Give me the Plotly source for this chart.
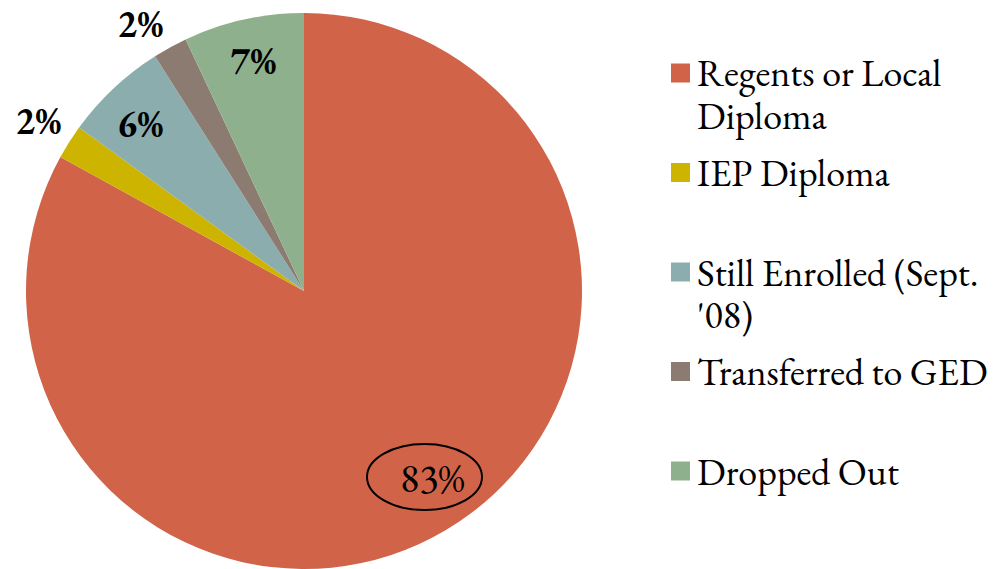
import plotly.graph_objects as go

# Outcome shares (percent), clockwise from 12 o'clock
categories = [
    "Regents or Local Diploma",
    "IEP Diploma",
    "Still Enrolled (Sept. '08)",
    "Transferred to GED",
    "Dropped Out",
]
legend_lines = [
    ["Regents or Local", "Diploma"],
    ["IEP Diploma"],
    ["Still Enrolled (Sept.", "'08)"],
    ["Transferred to GED"],
    ["Dropped Out"],
]
shares = [83, 2, 6, 2, 7]
colors = ["#D16349", "#CCB400", "#8CADAE", "#8C7B70", "#8FB08C"]

FONT = "EB Garamond"
W, H = 1001, 569
OFF = 8  # browser body margin: page px -> figure px
CX, CY, R = 304 - OFF, 291 - OFF, 278  # pie centre / radius (figure px)

# where the percentage labels sit (page px), as in the original slide
label_pos = [(432, 478), (38, 120), (140, 124), (140, 23), (253, 60)]
label_bold = [False, True, True, True, True]
label_size = [40, 38, 38, 38, 38]

fig = go.Figure(
    go.Pie(
        labels=categories,
        values=shares,
        marker=dict(colors=colors, line=dict(width=0)),
        sort=False,
        direction="clockwise",
        rotation=0,
        textinfo="none",
        hoverinfo="label+percent",
        domain=dict(x=[(CX - R) / W, (CX + R) / W],
                    y=[1 - (CY + R) / H, 1 - (CY - R) / H]),
        showlegend=False,
    )
)


def px(x, y):
    """page pixel -> paper coords"""
    return (x - OFF) / W, 1 - (y - OFF) / H


for v, (lx, ly), b, s in zip(shares, label_pos, label_bold, label_size):
    txt = f"{v}%"
    x, y = px(lx, ly)
    fig.add_annotation(
        x=x, y=y, xref="paper", yref="paper",
        text=f"<b>{txt}</b>" if b else txt, showarrow=False,
        font=dict(family=FONT, size=s, color="black"),
        xanchor="center", yanchor="middle",
    )

# ring around the 83% call-out
x0, y0 = px(367, 444)
x1, y1 = px(482, 510)
fig.add_shape(type="circle", xref="paper", yref="paper",
              x0=x0, x1=x1, y0=y1, y1=y0,
              line=dict(color="black", width=2))

# legend drawn by hand to keep the even spacing of the original
for i, (lines, c) in enumerate(zip(legend_lines, colors)):
    yc = 73 + i * 99.5
    x0, y0 = px(671, yc - 9.5)
    x1, y1 = px(690, yc + 9.5)
    fig.add_shape(type="rect", xref="paper", yref="paper",
                  x0=x0, x1=x1, y0=y1, y1=y0,
                  fillcolor=c, line=dict(width=0))
    for k, line in enumerate(lines):
        ax, ay = px(695, yc + k * 42.3)
        fig.add_annotation(
            x=ax, y=ay, xref="paper", yref="paper", text=line, showarrow=False,
            align="left", xanchor="left", yanchor="middle",
            font=dict(family=FONT, size=38, color="black"),
        )

fig.update_layout(
    width=W, height=H,
    margin=dict(l=0, r=0, t=0, b=0),
    paper_bgcolor="white",
    plot_bgcolor="white",
    font=dict(family=FONT),
)

fig.write_html("out.html")
